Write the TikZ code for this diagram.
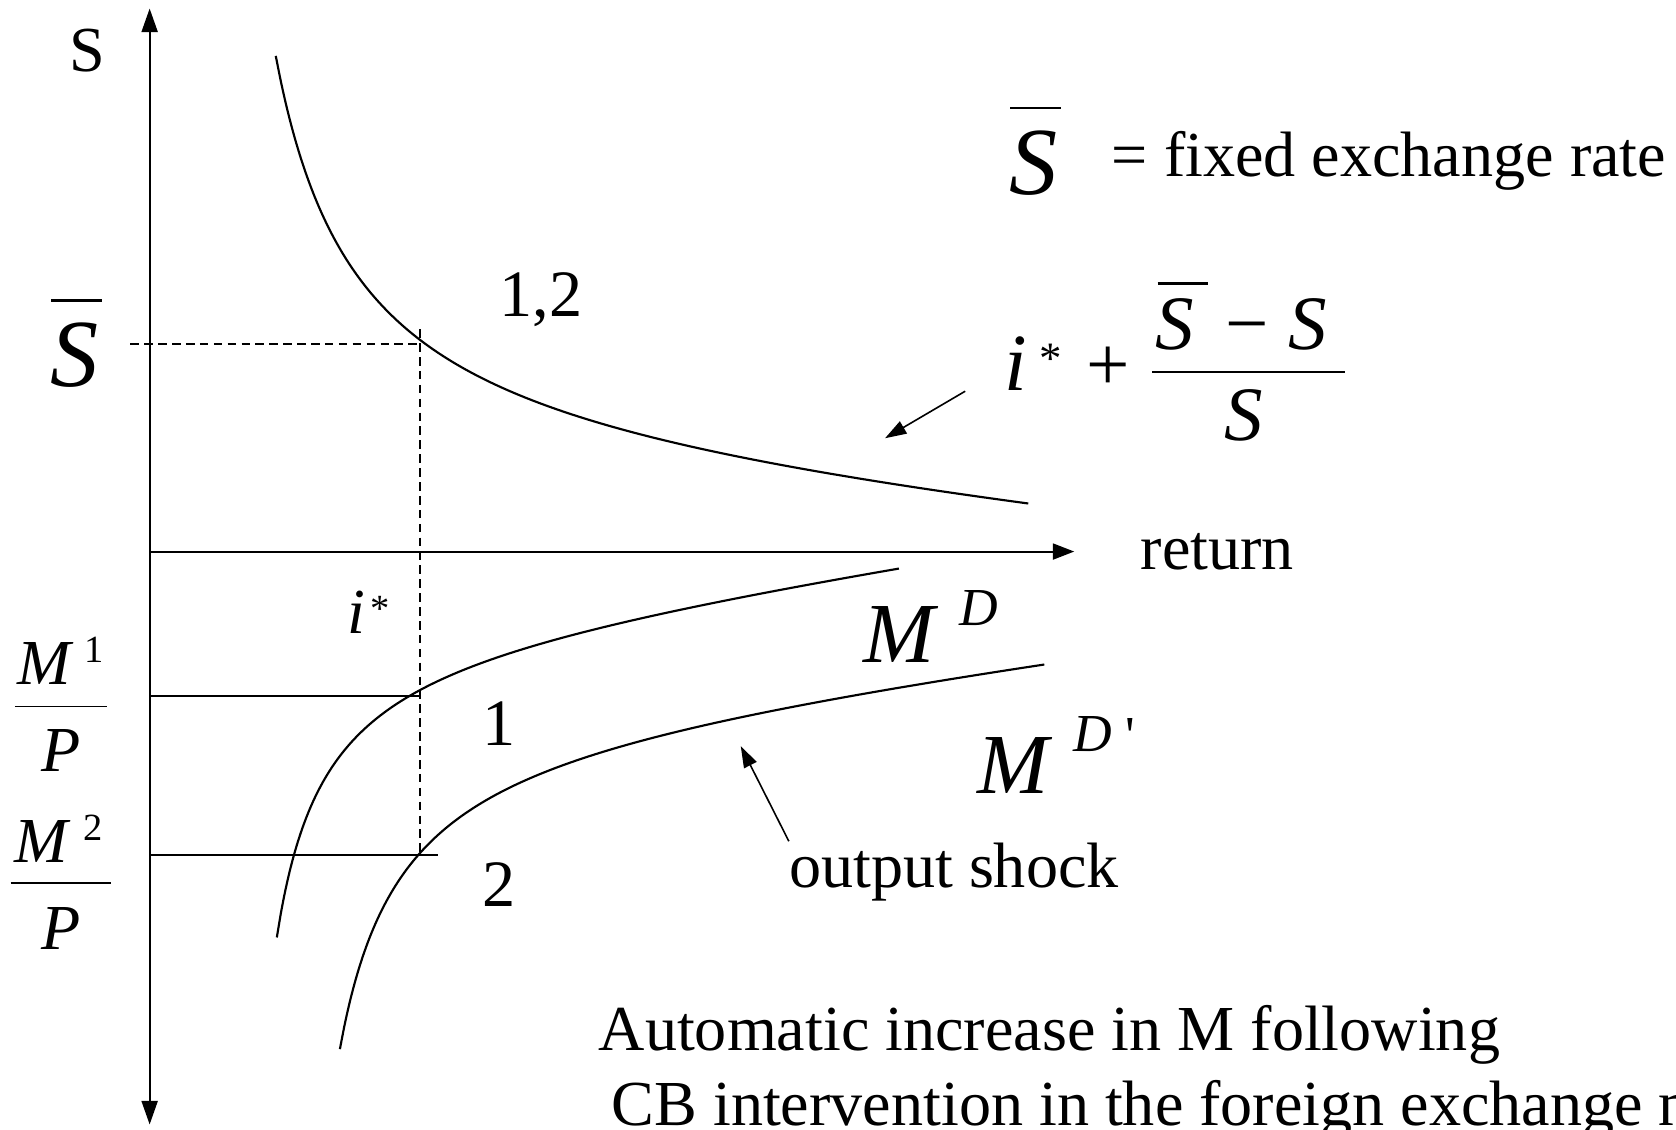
\documentclass[tikz,border=0pt]{standalone}
\usepackage{fontspec}
\setmainfont{Liberation Serif}
\usetikzlibrary{arrows.meta}
\newcommand\fsz[1]{\fontsize{#1}{#1}\selectfont}
\begin{document}
\begin{tikzpicture}[x=1pt,y=-1pt,
  axis/.style={line width=1.8pt},
  curve/.style={line width=2pt},
  guide/.style={line width=1.3pt, dash pattern=on 8pt off 5pt},
  level/.style={line width=1.5pt},
  bar/.style={line width=2.6pt},
  pointer/.style={line width=1.5pt,-{Triangle[length=20pt,width=13pt]}},
  lbl/.style={inner sep=0pt, anchor=base west},
  lblc/.style={inner sep=0pt, anchor=base}]
\useasboundingbox (0,0) rectangle (1568,1057);
\clip (0,0) rectangle (1568,1057);
% axes
\coordinate (top) at (140,8);
\coordinate (bot) at (140,1052);
\coordinate (O) at (140,516);
\coordinate (xr) at (1005,516);
\draw[axis,{Triangle[length=22pt,width=15pt]}-{Triangle[length=22pt,width=15pt]}] (top) -- (bot);
\draw[axis,-{Triangle[length=20pt,width=15pt]}] (O) -- (xr);
% curves
\draw[curve] plot[domain=258:962, samples=150, smooth] (\x, {427.5 + 0.0855*\x - 301.9/((\x-182)/100)});
\draw[curve] plot[domain=259:841, samples=150, smooth] (\x, {630.4 - 0.141*\x + 126/((\x-214.5)/100)});
\draw[curve] plot[domain=318:977, samples=150, smooth] (\x, {712.8 - 0.118*\x + 173/((\x-261.5)/100)});
% guide lines
\coordinate (sbL) at (122,322);
\coordinate (sbR) at (393,322);
\coordinate (vT) at (393,308);
\coordinate (vB) at (393,800);
\draw[guide] (sbL) -- (sbR);
\draw[guide] (vT) -- (vB);
\coordinate (m1L) at (140,651);
\coordinate (m1R) at (393,651);
\coordinate (m2L) at (140,800);
\coordinate (m2R) at (410,800);
\draw[level] (m1L) -- (m1R);
\draw[level] (m2L) -- (m2R);
% axis labels
\node[lbl] (Slab) at (65,67) {\fsz{60}S};
\node[lbl] (Sbar) at (47,362) {\fsz{90}\textit{S}};
\draw[bar] (48,281) -- (95,281);
\node[lbl] (ret) at (1067,533) {\fsz{60}return};
% top right legend
\node[lbl] (Sbar2) at (944,182) {\fsz{90}\textit{S}};
\draw[bar] (945,101) -- (993,101);
\node[lbl] (fixed) at (1040,165) {\fsz{60}= fixed exchange rate};
% numbers
\node[lblc] (n12) at (506,296) {\fsz{62}1,2};
\node[lblc] (n1) at (467,697) {\fsz{62}1};
\node[lblc] (n2) at (467,848) {\fsz{62}2};
% i*
\node[lbl] (istar) at (325,593) {\fsz{60}\textit{i}\hspace{5pt}\raisebox{12pt}{\fsz{36}*}};
% M1/P
\node[lbl] (M1) at (16,640) {\fsz{60}\textit{M}};
\node[lbl] (sup1) at (79,620) {\fsz{36}1};
\draw[level] (14,661) -- (100,661);
\node[lblc] (P1) at (57,722) {\fsz{60}\textit{P}};
% M2/P
\node[lbl] (M2) at (13,807) {\fsz{60}\textit{M}};
\node[lbl] (sup2) at (78,786) {\fsz{36}2};
\draw[level] (10,826) -- (104,826);
\node[lblc] (P2) at (57,888) {\fsz{60}\textit{P}};
% M^D
\node[lbl] (MD) at (808,620) {\fsz{80}\textit{M}};
\node[lbl] (MDs) at (897,585) {\fsz{50}\textit{D}};
% M^D'
\node[lbl] (MD2) at (914,742) {\fsz{80}\textit{M}};
\node[lbl] (MD2s) at (1004,703) {\fsz{50}\textit{D}};
\node[lbl] (MD2p) at (1053,705) {\fsz{50}\textquotesingle};
% formula
\node[lbl] (fi) at (940,365) {\fsz{76}\textit{i}};
\node[lbl] (fstar) at (972,349) {\fsz{42}*};
\node[lbl] (fplus) at (1016,365) {\fsz{72}+};
\draw[bar] (1078,348) -- (1258,348);
\node[lbl] (fS1) at (1081,327) {\fsz{72}\textit{S}};
\draw[bar] (1083,265) -- (1130,265);
\node[lbl] (fminus) at (1146,327) {\fsz{72}−};
\node[lbl] (fS2) at (1205,327) {\fsz{72}\textit{S}};
\node[lbl] (fS3) at (1145,412) {\fsz{72}\textit{S}};
% pointers
\coordinate (a1s) at (903,366);
\coordinate (a1e) at (828,410);
\draw[pointer] (a1s) -- (a1e);
\node[lbl] (shock) at (738,830) {\fsz{60}output shock};
\coordinate (a2s) at (738,787);
\coordinate (a2e) at (693,698);
\draw[pointer] (a2s) -- (a2e);
% bottom text
\node[lbl] (auto) at (560,983) {\fsz{60}Automatic increase in M following};
\node[lbl] (cb) at (572,1053) {\fsz{60}CB intervention in the foreign exchange m};
\end{tikzpicture}
\end{document}
